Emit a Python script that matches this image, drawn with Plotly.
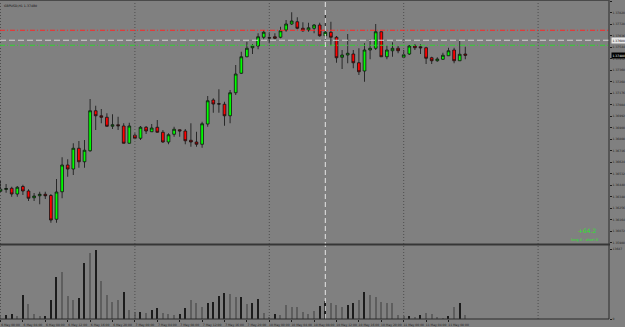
import plotly.graph_objects as go

# ---------------- data ----------------
symbol_title = "GBPUSD,H1 1.37480"
days = ["6 May", "7 May", "10 May", "11 May"]

opens = [1.36392, 1.36406, 1.36416, 1.36370, 1.36430, 1.36394, 1.36340, 1.36356, 1.36368, 1.36358,
         1.36168, 1.36388, 1.36602, 1.36570, 1.36736, 1.36628, 1.36716, 1.37036, 1.36996, 1.36984,
         1.36912, 1.36924, 1.36914, 1.36776, 1.36840, 1.36816, 1.36904, 1.36868, 1.36904, 1.36864,
         1.36786, 1.36848, 1.36884, 1.36874, 1.36800, 1.36786, 1.36768, 1.36930, 1.37122, 1.37092,
         1.37088, 1.36996, 1.37180, 1.37336, 1.37468, 1.37540, 1.37554, 1.37624, 1.37620, 1.37628,
         1.37624, 1.37682, 1.37730, 1.37748, 1.37696, 1.37682, 1.37696, 1.37722, 1.37636, 1.37664,
         1.37624, 1.37464, 1.37482, 1.37490, 1.37420, 1.37354, 1.37522, 1.37536, 1.37668, 1.37468,
         1.37516, 1.37536, 1.37464, 1.37490, 1.37554, 1.37548, 1.37540, 1.37460, 1.37436, 1.37448,
         1.37476, 1.37522, 1.37436, 1.37490]
highs = [1.36482, 1.36450, 1.36428, 1.36434, 1.36444, 1.36408, 1.36378, 1.36388, 1.36388, 1.36370,
         1.36490, 1.36664, 1.36648, 1.36776, 1.36794, 1.36802, 1.37130, 1.37076, 1.37050, 1.37016,
         1.37008, 1.36988, 1.36936, 1.36940, 1.36856, 1.36914, 1.36914, 1.36930, 1.36962, 1.36882,
         1.36856, 1.36908, 1.36888, 1.36890, 1.36936, 1.36868, 1.36948, 1.37154, 1.37136, 1.37208,
         1.37108, 1.37202, 1.37402, 1.37508, 1.37588, 1.37570, 1.37656, 1.37682, 1.37664, 1.37656,
         1.37708, 1.37762, 1.37824, 1.37784, 1.37744, 1.37740, 1.37730, 1.37740, 1.37802, 1.37748,
         1.37634, 1.37522, 1.37650, 1.37522, 1.37536, 1.37576, 1.37608, 1.37730, 1.37670, 1.37556,
         1.37584, 1.37554, 1.37522, 1.37562, 1.37570, 1.37568, 1.37548, 1.37468, 1.37464, 1.37500,
         1.37540, 1.37540, 1.37596, 1.37548]
lows = [1.36378, 1.36380, 1.36348, 1.36348, 1.36362, 1.36314, 1.36314, 1.36288, 1.36330, 1.36140,
        1.36140, 1.36336, 1.36508, 1.36522, 1.36580, 1.36580, 1.36708, 1.36882, 1.36936, 1.36908,
        1.36890, 1.36882, 1.36774, 1.36774, 1.36808, 1.36802, 1.36850, 1.36866, 1.36860, 1.36780,
        1.36768, 1.36828, 1.36828, 1.36768, 1.36748, 1.36748, 1.36740, 1.36908, 1.37020, 1.37020,
        1.36916, 1.36936, 1.37162, 1.37330, 1.37464, 1.37490, 1.37528, 1.37608, 1.37576, 1.37608,
        1.37616, 1.37668, 1.37722, 1.37688, 1.37668, 1.37668, 1.37656, 1.37628, 1.37602, 1.37554,
        1.37420, 1.37370, 1.37416, 1.37376, 1.37322, 1.37268, 1.37448, 1.37522, 1.37466, 1.37448,
        1.37468, 1.37496, 1.37456, 1.37482, 1.37522, 1.37490, 1.37410, 1.37410, 1.37428, 1.37442,
        1.37474, 1.37416, 1.37434, 1.37448]
closes = [1.36408, 1.36414, 1.36370, 1.36424, 1.36394, 1.36336, 1.36354, 1.36368, 1.36356, 1.36162,
          1.36386, 1.36602, 1.36570, 1.36736, 1.36628, 1.36720, 1.37036, 1.36996, 1.36984, 1.36912,
          1.36924, 1.36916, 1.36776, 1.36914, 1.36816, 1.36904, 1.36874, 1.36898, 1.36864, 1.36786,
          1.36844, 1.36888, 1.36874, 1.36796, 1.36786, 1.36768, 1.36932, 1.37116, 1.37090, 1.37090,
          1.36996, 1.37180, 1.37330, 1.37468, 1.37536, 1.37556, 1.37628, 1.37664, 1.37618, 1.37616,
          1.37676, 1.37730, 1.37754, 1.37696, 1.37676, 1.37700, 1.37722, 1.37636, 1.37664, 1.37624,
          1.37460, 1.37482, 1.37496, 1.37420, 1.37348, 1.37522, 1.37536, 1.37668, 1.37468, 1.37522,
          1.37536, 1.37516, 1.37484, 1.37554, 1.37540, 1.37540, 1.37456, 1.37436, 1.37450, 1.37480,
          1.37516, 1.37436, 1.37488, 1.37480]
volumes = [975, 975, 1170, 780, 4875, 3060, 1110, 780, 780, 3840,
           8250, 9360, 4680, 3900, 4290, 10980, 12930, 13647, 7605, 4875,
           3510, 3900, 5325, 1950, 1560, 1425, 1230, 1950, 2340, 1365,
           1110, 840, 1170, 2340, 3900, 3315, 2535, 3220, 3510, 4680,
           5205, 4935, 4350, 4350, 3120, 3315, 4035, 1230, 585, 1110,
           975, 2865, 2400, 2400, 1425, 1170, 1755, 2730, 3705, 3180,
           2790, 2475, 2865, 3180, 3900, 5460, 4875, 4350, 3450, 3255,
           3180, 975, 780, 645, 585, 915, 1365, 1110, 525, 330,
           720, 2400, 3315, 975]
# volume bar shade: B = dark, G = light
volume_shade = "GBBGBGGGBBBGGGBBGBGGGGBGGBGBBGGGBBGGGBBBBGGBGBBGGBGGGGGGGBBGGGBBGBGGGGGGGBGBGGGGBGBG"

price_ticks = [1.37912, 1.37820, 1.37728, 1.37636, 1.37544, 1.37452, 1.37360, 1.37268, 1.37176,
               1.37084, 1.36992, 1.36900, 1.36808, 1.36716, 1.36624, 1.36532, 1.36440, 1.36348,
               1.36256, 1.36164, 1.36072, 1.35980]
volume_ticks = [0, 13647]
level_red = 1.37680
level_white = 1.37600
level_green = 1.37560
last_price = 1.37480
profit_text = "+64.2"
orders_text = "long 0 : short 0"
separator_bars = [0, 24, 48, 72, 96]
marker_bar = 58

# ---------------- figure ----------------
W, H = 625, 327
n = len(opens)
idx = list(range(n))
time_tickvals = list(range(0, n, 4))
time_ticktext = [f"{days[i // 24]} {i % 24:02d}:00" for i in time_tickvals]

BG = "#808080"
AXC = "#1e1e1e"
xr = [-0.0893, 108.66]
x_right = 609 / W
main_dom = [(H - 243) / H, 1.0]
vol_dom = [(H - 319) / H, (H - 246.5) / H]
main_range = [1.35978, 1.37922]
vol_range = [0, 72.5 * 195]

fig = go.Figure()
fig.add_trace(go.Candlestick(
    x=idx, open=opens, high=highs, low=lows, close=closes,
    xaxis="x", yaxis="y", whiskerwidth=0,
    increasing=dict(fillcolor="#00ff00", line=dict(color="#111111", width=0.8)),
    decreasing=dict(fillcolor="#ff0000", line=dict(color="#111111", width=0.8)),
    hoverinfo="skip", showlegend=False,
))
fig.add_trace(go.Bar(
    x=idx, y=volumes, xaxis="x2", yaxis="y2", width=0.24,
    marker=dict(color=["#1c1c1c" if s == "B" else "#5e5e5e" for s in volume_shade],
                line=dict(width=0)),
    hoverinfo="skip", showlegend=False,
))

font = "DejaVu Sans"
common = dict(showgrid=False, zeroline=False, showline=False, automargin=False, fixedrange=True)
fig.update_layout(
    template="none",
    width=W, height=H, margin=dict(l=0, r=0, t=0, b=0, pad=0),
    paper_bgcolor=BG, plot_bgcolor=BG, showlegend=False,
    font=dict(family=font, color=AXC, size=3),
    xaxis=dict(domain=[0, x_right], range=xr, anchor="y", showticklabels=False, ticks="",
               rangeslider=dict(visible=False), **common),
    yaxis=dict(domain=main_dom, range=main_range, side="right", anchor="x",
               tickvals=price_ticks, ticktext=[f"{v:.5f}" for v in price_ticks],
               ticks="outside", ticklen=2, tickcolor=AXC, tickfont=dict(size=3, color=AXC),
               **common),
    xaxis2=dict(domain=[0, x_right], range=xr, anchor="y2", tickvals=time_tickvals,
                ticktext=time_ticktext, ticks="outside", ticklen=2, tickcolor=AXC, tickangle=0,
                tickfont=dict(size=3, color=AXC), ticklabelshift=10, ticklabelstandoff=0,
                **common),
    yaxis2=dict(domain=vol_dom, range=vol_range, side="right", anchor="x2",
                tickvals=volume_ticks, ticktext=[str(v) for v in volume_ticks],
                ticks="outside", ticklen=2, tickcolor=AXC, tickfont=dict(size=3, color=AXC),
                **common),
    bargap=0,
)

shapes = []
# day separators (dotted) and marker line (white dashed)
for b in separator_bars:
    shapes.append(dict(type="line", xref="x", yref="paper", x0=b, x1=b, y0=vol_dom[0], y1=1,
                       line=dict(color="#4e4e4e", width=1, dash="1px,2px")))
shapes.append(dict(type="line", xref="x", yref="paper", x0=marker_bar, x1=marker_bar,
                   y0=vol_dom[0], y1=1, line=dict(color="#e6e6e6", width=1, dash="5px,3px")))
# horizontal levels
for lv, col, dsh, wd in [(level_red, "#ff2424", "5px,2px,1px,2px", 1),
                         (level_white, "#d4d4d4", "6px,3px", 1.2),
                         (level_green, "#2fd42f", "5px,2px,1px,2px", 1)]:
    shapes.append(dict(type="line", xref="paper", yref="y", x0=0, x1=x_right, y0=lv, y1=lv,
                       line=dict(color=col, width=wd, dash=dsh)))
# borders
shapes.append(dict(type="line", xref="paper", yref="paper", x0=x_right, x1=x_right,
                   y0=vol_dom[0], y1=1, line=dict(color="#2a2a2a", width=1)))
shapes.append(dict(type="line", xref="paper", yref="paper", x0=0, x1=x_right, y0=1 - 0.5 / H,
                   y1=1 - 0.5 / H, line=dict(color="#4a4a4a", width=1)))
shapes.append(dict(type="line", xref="paper", yref="paper", x0=0, x1=x_right + 1 / W,
                   y0=(H - 244.5) / H, y1=(H - 244.5) / H, line=dict(color="#363636", width=2)))
shapes.append(dict(type="line", xref="paper", yref="paper", x0=0, x1=x_right,
                   y0=vol_dom[0], y1=vol_dom[0], line=dict(color="#2a2a2a", width=1)))
fig.update_layout(shapes=shapes)

ann = []
ann.append(dict(text=symbol_title, xref="paper", yref="paper", x=2 / W, y=1 - 2 / H,
                xanchor="left", yanchor="top", showarrow=False,
                font=dict(size=3.2, color="#111111", family=font)))
ann.append(dict(text=f"{level_white:.5f}", xref="paper", yref="y", x=610.5 / W, y=level_white,
                xanchor="left", yanchor="middle", showarrow=False, bgcolor="#e8e8e8",
                borderpad=0.5, font=dict(size=3, color="#000000", family=font)))
ann.append(dict(text=f"{last_price:.5f}", xref="paper", yref="y", x=610.5 / W, y=last_price,
                xanchor="left", yanchor="middle", showarrow=False, bgcolor="#000000",
                borderpad=0.5, font=dict(size=3, color="#ffffff", family=font)))
ann.append(dict(text=profit_text, xref="paper", yref="paper", x=587 / W, y=(H - 230) / H,
                xanchor="center", yanchor="middle", showarrow=False,
                font=dict(size=6, color="#2ee02e", family=font)))
ann.append(dict(text=orders_text, xref="paper", yref="paper", x=585 / W, y=(H - 239.5) / H,
                xanchor="center", yanchor="middle", showarrow=False,
                font=dict(size=3.6, color="#2ee02e", family=font)))
fig.update_layout(annotations=ann)

fig.write_html("out.html", config={"displayModeBar": False})
